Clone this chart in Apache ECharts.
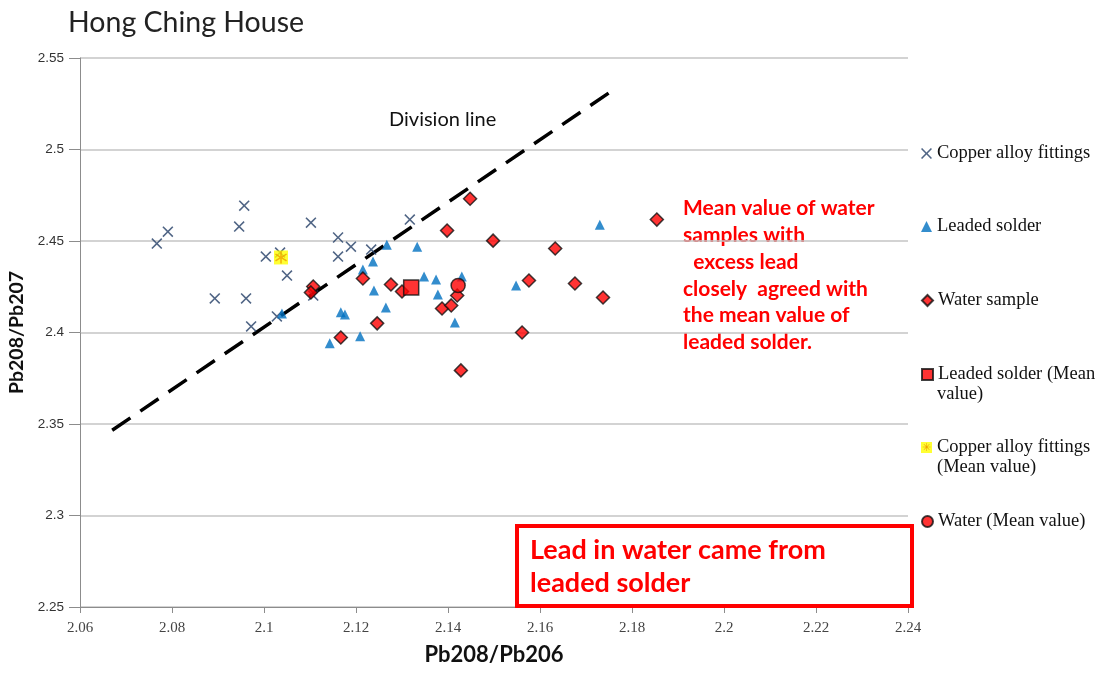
<!DOCTYPE html>
<html><head><meta charset="utf-8">
<script src="https://cdn.jsdelivr.net/npm/echarts@6/dist/echarts.min.js"></script>
<style>html,body{margin:0;padding:0;background:#fff}#c{width:1102px;height:673px}</style>
</head><body><div id="c"></div>
<script>
// ---- data ----
const copperAlloy = [[2.0767,2.4486],[2.0791,2.4551],[2.0893,2.4186],[2.0946,2.4579],[2.0957,2.4693],[2.0961,2.4186],[2.0972,2.4033],[2.1004,2.4415],[2.1035,2.4437],[2.1050,2.4311],[2.1028,2.4088],[2.1107,2.4202],[2.1102,2.4600],[2.1161,2.4519],[2.1161,2.4415],[2.1189,2.4469],[2.1233,2.4453],[2.1317,2.4617]];
const leadedSolder = [[2.1039,2.4104],[2.1143,2.3941],[2.1167,2.4110],[2.1176,2.4099],[2.1209,2.3979],[2.1239,2.4230],[2.1215,2.4344],[2.1237,2.4388],[2.1267,2.4480],[2.1265,2.4137],[2.1333,2.4469],[2.1348,2.4306],[2.1374,2.4290],[2.1378,2.4208],[2.1430,2.4306],[2.1415,2.4055],[2.1548,2.4257],[2.1730,2.4589]];
const waterSample = [[2.1107,2.4251],[2.1102,2.4219],[2.1215,2.4295],[2.1276,2.4262],[2.1300,2.4224],[2.1246,2.4050],[2.1167,2.3973],[2.1387,2.4131],[2.1407,2.4148],[2.1420,2.4202],[2.1398,2.4557],[2.1448,2.4731],[2.1498,2.4502],[2.1428,2.3793],[2.1576,2.4284],[2.1561,2.4000],[2.1633,2.4459],[2.1854,2.4617],[2.1676,2.4268],[2.1737,2.4191]];
const solderMean = [[2.1320,2.4246]];
const copperMean = [[2.1037,2.4410]];
const waterMean = [[2.1422,2.4257]];
const divisionLine = [[2.0670,2.3466],[2.1765,2.5335]];
const xTicks = {min:2.06, max:2.24, step:0.02};
const yTicks = {min:2.25, max:2.55, step:0.05};
const names = ['Copper alloy fittings','Leaded solder','Water sample','Leaded solder (Mean\nvalue)','Copper alloy fittings\n(Mean value)','Water (Mean value)'];

const X_PATH = 'path://M1,0L5,4L9,0L10,1L6,5L10,9L9,10L5,6L1,10L0,9L4,5L0,1Z';
const AST_PATH = 'path://M4.4,0H5.6V3.9L8.9,1.6L9.6,2.6L6.2,5L9.6,7.4L8.9,8.4L5.6,6.1V10H4.4V6.1L1.1,8.4L0.4,7.4L3.8,5L0.4,2.6L1.1,1.6L4.4,3.9Z';

const chart = echarts.init(document.getElementById('c'));
const legendCenters = [153,226,300,374,447,521];
const legendFont = {fontFamily:'Liberation Serif', fontSize:18.5, color:'#111'};
const legends = names.map((n,i)=>({
  data:[n], left:921, top:legendCenters[i]-9, padding:0, itemWidth:11, itemHeight:11, itemGap:0,
  selectedMode:false, formatter: s => s.split('\n')[0],
  textStyle: legendFont
}));
const secondLines = [];
names.forEach((n,i)=>{
  const parts = n.split('\n');
  if (parts.length>1) secondLines.push({type:'text', left:937, top:legendCenters[i]+11,
    style:{text:parts[1], fill:'#111', fontFamily:legendFont.fontFamily, fontSize:legendFont.fontSize}});
});
chart.setOption({
  animation:false,
  backgroundColor:'#fff',
  title:{text:'Hong Ching House', left:63, top:3, textStyle:{fontFamily:'Lato', fontSize:28.5, fontWeight:'normal', color:'#222'}},
  legend: legends,
  grid:{left:80, right:194, top:58, bottom:66, outerBoundsMode:'none', containLabel:false},
  xAxis:{type:'value', min:xTicks.min, max:xTicks.max, interval:xTicks.step,
    name:'Pb208/Pb206', nameLocation:'middle', nameGap:37,
    nameTextStyle:{fontFamily:'Lato', fontWeight:'bold', fontSize:22, color:'#111'},
    axisLine:{show:true, lineStyle:{color:'#8c8c8c', width:1}},
    axisTick:{show:true, length:6, lineStyle:{color:'#8c8c8c'}},
    axisLabel:{fontFamily:'Liberation Sans Narrow', fontSize:15, color:'#444', margin:14},
    splitLine:{show:false}},
  yAxis:{type:'value', min:yTicks.min, max:yTicks.max, interval:yTicks.step,
    name:'Pb208/Pb207', nameLocation:'middle', nameGap:49, nameRotate:90,
    nameTextStyle:{fontFamily:'Lato', fontWeight:'bold', fontSize:19.5, color:'#111'},
    axisLine:{show:true, lineStyle:{color:'#8c8c8c', width:1}},
    axisTick:{show:true, length:11, lineStyle:{color:'#8c8c8c'}},
    axisLabel:{fontFamily:'Liberation Sans', fontSize:13.5, color:'#333', margin:16},
    splitLine:{show:true, lineStyle:{color:'#c4c4c4', width:1.5}}},
  series:[
    {type:'line', data:divisionLine, symbol:'none', silent:true, z:1,
      lineStyle:{color:'#000', width:3.5, type:[22,12]}},
    {name:names[0], type:'scatter', data:copperAlloy, symbol:X_PATH, symbolSize:11, z:3,
      itemStyle:{color:'#243F66'}},
    {name:names[1], type:'scatter', data:leadedSolder, symbol:'triangle', symbolSize:[10,10], z:3,
      itemStyle:{color:'#0070C0'}},
    {name:names[2], type:'scatter', data:waterSample, symbol:'diamond', symbolSize:13, z:4,
      itemStyle:{color:'#FF0000', borderColor:'#111', borderWidth:1.5}},
    {name:names[3], type:'scatter', data:solderMean, symbol:'rect', symbolSize:15, z:5,
      itemStyle:{color:'#FF0000', borderColor:'#111', borderWidth:1.5}},
    {name:names[4], type:'scatter', data:copperMean, symbol:'rect', symbolSize:14, z:5,
      itemStyle:{color:'#FFFF00'}},
    {name:names[4], type:'scatter', data:copperMean, symbol:AST_PATH, symbolSize:12, z:6,
      itemStyle:{color:'#F0A000'}},
    {name:names[5], type:'scatter', data:waterMean, symbol:'circle', symbolSize:14, z:5,
      itemStyle:{color:'#FF0000', borderColor:'#111', borderWidth:1.5}}
  ],
  graphic:[
    {type:'text', left:389, top:110, style:{text:'Division line', fontFamily:'Lato', fontSize:20, fill:'#111'}},
    {type:'text', left:683, top:195, style:{text:'Mean value of water\nsamples with\n  excess lead\nclosely  agreed with\nthe mean value of\nleaded solder.',
      fontFamily:'Lato', fontWeight:'bold', fontSize:21, lineHeight:26.8, fill:'#FF0000'}},
    {type:'rect', shape:{x:517, y:526, width:395, height:80}, style:{fill:'#fff', stroke:'#FF0000', lineWidth:4}, z:10},
    {type:'text', left:530, top:534, z:11, style:{text:'Lead in water came from\nleaded solder', fontFamily:'Lato', fontWeight:'bold', fontSize:27, lineHeight:33, fill:'#FF0000'}},
    {type:'text', left:922, top:442, z:12, style:{text:'\u2733', fontSize:11, fill:'#F0A000'}}
  ].concat(secondLines)
});
</script></body></html>
